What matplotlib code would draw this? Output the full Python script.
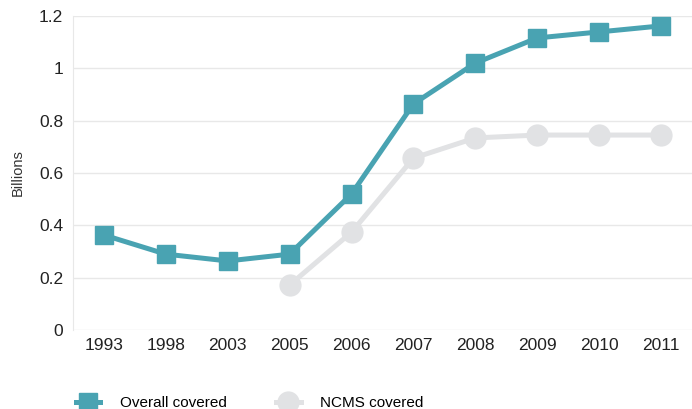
import matplotlib.pyplot as plt

plt.rcParams["font.family"] = ["Liberation Sans", "DejaVu Sans"]

years = ["1993", "1998", "2003", "2005", "2006", "2007", "2008", "2009", "2010", "2011"]
overall = [0.363, 0.29, 0.264, 0.29, 0.52, 0.864, 1.02, 1.116, 1.139, 1.162]
ncms_years = ["2005", "2006", "2007", "2008", "2009", "2010", "2011"]
ncms = [0.172, 0.374, 0.657, 0.734, 0.745, 0.745, 0.745]

teal = "#49a3b2"
grey = "#e1e2e4"

fig = plt.figure(figsize=(6.92, 4.09), dpi=100)
ax = fig.add_axes([0.1055, 0.193, 0.8945, 0.768])

x_all = list(range(len(years)))
x_ncms = [years.index(y) for y in ncms_years]

ax.plot(x_ncms, ncms, color=grey, lw=3.6, marker="o", ms=15, label="NCMS covered", zorder=3)
ax.plot(x_all, overall, color=teal, lw=3.6, marker="s", ms=12.5, label="Overall covered", zorder=4)

ax.set_xlim(-0.5, 9.5)
ax.set_ylim(0, 1.2)
ax.set_yticks([0, 0.2, 0.4, 0.6, 0.8, 1.0, 1.2])
ax.set_yticklabels(["0", "0.2", "0.4", "0.6", "0.8", "1", "1.2"])
ax.set_xticks(x_all)
ax.set_xticklabels(years)
ax.tick_params(length=0, labelsize=12.5, colors="#222222")
ax.tick_params(axis="x", pad=6)
ax.tick_params(axis="y", pad=7)
ax.grid(axis="y", color="#e8e8e8", lw=1)
ax.set_axisbelow(True)
for s in ["top", "right", "bottom"]:
    ax.spines[s].set_visible(False)
ax.spines["left"].set_color("#e8e8e8")
ax.set_ylabel("Billions", fontsize=10.5, color="#333333", labelpad=10)

# legend sits along the bottom edge, square first
handles, labels = ax.get_legend_handles_labels()
fig.legend(handles[::-1], labels[::-1], loc="center left", bbox_to_anchor=(0.09, 0.015),
           ncol=2, frameon=False, fontsize=11, handlelength=1.6, columnspacing=3.2,
           handletextpad=1.3)

fig.savefig("out.png", dpi=100)
